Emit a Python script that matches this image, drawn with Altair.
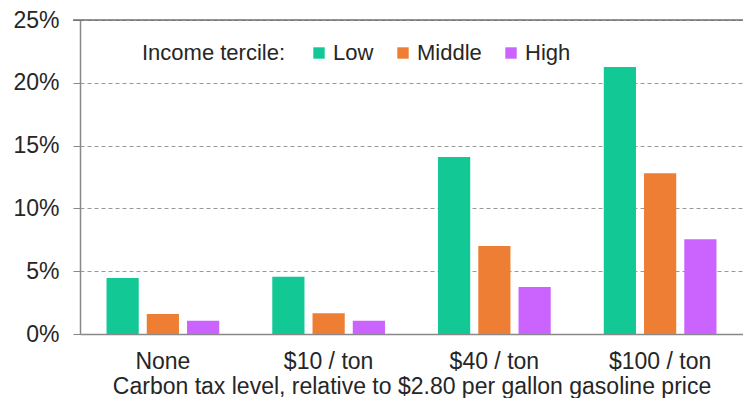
import altair as alt
import pandas as pd

levels = ["None", "$10 / ton", "$40 / ton", "$100 / ton"]
terciles = ["Low", "Middle", "High"]
low = [4.45, 4.55, 14.1, 21.25]
middle = [1.6, 1.65, 7.0, 12.8]
high = [1.05, 1.05, 3.75, 7.55]
colors = ["#12C995", "#EE7E33", "#CB63FF"]

rows = []
for i, lv in enumerate(levels):
    for t, vals in zip(terciles, [low, middle, high]):
        rows.append({"level": lv, "tercile": t, "value": vals[i] / 100.0})
df = pd.DataFrame(rows)

font = "Liberation Sans"
txt = "#262626"
W = 663

bars = alt.Chart(df).mark_bar().encode(
    x=alt.X("level:N", sort=levels,
            scale=alt.Scale(paddingInner=0.32, paddingOuter=0.16),
            axis=alt.Axis(title="Carbon tax level, relative to $2.80 per gallon gasoline price",
                          labelAngle=0, ticks=False, labelPadding=16, titlePadding=2,
                          domainColor="#888888", domainWidth=1.5)),
    xOffset=alt.XOffset("tercile:N", sort=terciles,
                        scale=alt.Scale(paddingInner=0.2, paddingOuter=0)),
    y=alt.Y("value:Q", scale=alt.Scale(domain=[0, 0.25], nice=False),
            axis=alt.Axis(title=None, format=".0%", values=[0, 0.05, 0.1, 0.15, 0.2, 0.25],
                          tickSize=7, tickColor="#888888", labelPadding=14,
                          domainColor="#888888", domainWidth=1.5,
                          grid=True, gridDash=[4, 3], gridColor="#999999", gridWidth=1)),
    color=alt.Color("tercile:N", sort=terciles,
                    scale=alt.Scale(domain=terciles, range=colors),
                    legend=alt.Legend(title="Income tercile:", orient="none", direction="horizontal",
                                      titleOrient="left", legendX=62, legendY=22,
                                      symbolType="square", symbolSize=130, symbolStrokeWidth=0,
                                      columnPadding=18, labelOffset=3, titlePadding=22)),
)

top = alt.Chart(pd.DataFrame({"y": [0.25]})).mark_rule(color="#6e6e6e", strokeWidth=1.5).encode(
    y="y:Q", x=alt.value(-7), x2=alt.value(W)
)

chart = alt.layer(bars, top).properties(
    width=W, height=314,
    autosize=alt.AutoSizeParams(type="none"),
    padding={"left": 72, "top": 12, "right": 0, "bottom": 64},
).configure_view(stroke=None).configure_axis(
    labelFont=font, titleFont=font, labelFontSize=23, titleFontSize=23,
    labelColor=txt, titleColor=txt, titleFontWeight="normal"
).configure_legend(
    labelFont=font, titleFont=font, labelFontSize=22, titleFontSize=22,
    labelColor=txt, titleColor=txt, titleFontWeight="normal"
)

chart.save("out.html", embed_options={"renderer": "svg", "actions": False})
